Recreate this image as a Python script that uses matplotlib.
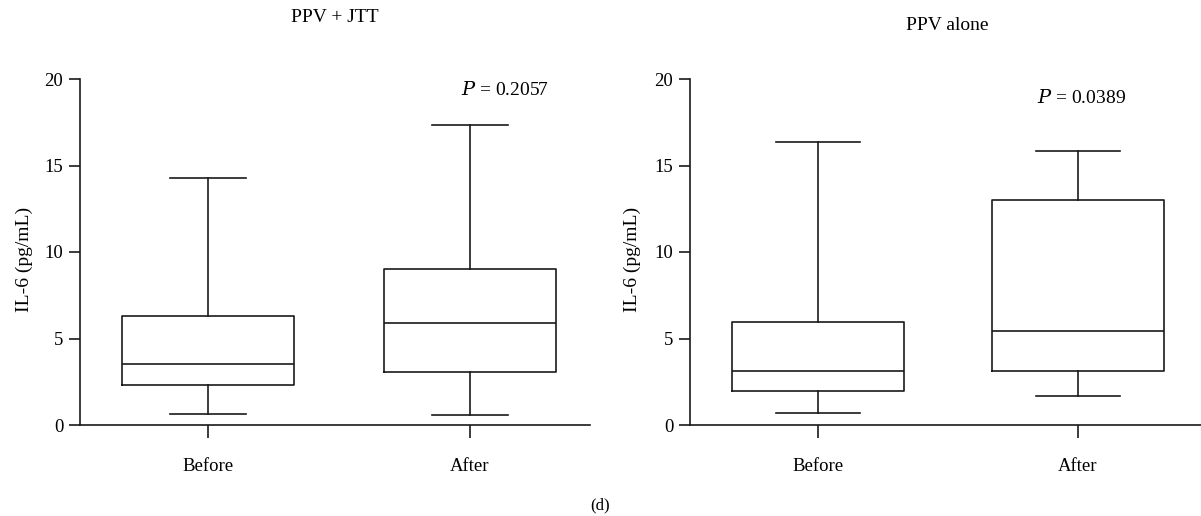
import matplotlib
matplotlib.use("Agg")
import matplotlib.pyplot as plt

plt.rcParams['font.family'] = ['Liberation Serif', 'DejaVu Serif']

categories = ["Before", "After"]
titles = ["PPV + JTT", "PPV alone"]
p_labels = ["0.2057", "0.0389"]

# box statistics: whisker low, Q1, median, Q3, whisker high
jtt_before = [0.62, 2.31, 3.51, 6.32, 14.3]
jtt_after = [0.58, 3.05, 5.91, 9.0, 17.34]
alone_before = [0.71, 1.97, 3.14, 5.97, 16.34]
alone_after = [1.68, 3.12, 5.43, 13.0, 15.86]

yticks = [0, 5, 10, 15, 20]

def stats(vals, label):
    lo, q1, med, q3, hi = vals
    return dict(whislo=lo, q1=q1, med=med, q3=q3, whishi=hi, fliers=[], label=label)

fig = plt.figure(figsize=(12.01, 5.16), dpi=100)
W, H = 1201, 516

panels = [
    dict(rect=(80, 590), data=[jtt_before, jtt_after], xlim=(0.5115, 2.458),
         width=0.653, cap=0.29, title=titles[0], title_xy=(335, 17),
         p=p_labels[0], p_xy=(505, 90), ylab_x=24),
    dict(rect=(690, 1201), data=[alone_before, alone_after], xlim=(0.508, 2.473),
         width=0.66, cap=0.32, title=titles[1], title_xy=(947, 26),
         p=p_labels[1], p_xy=(1082, 98), ylab_x=632),
]

col = "#1a1a1a"
for pn in panels:
    x0, x1 = pn["rect"]
    ax = fig.add_axes([x0 / W, 1 - 425 / H, (x1 - x0) / W, (425 - 79) / H])
    st = [stats(v, c) for v, c in zip(pn["data"], categories)]
    ax.bxp(st, positions=[1, 2], widths=pn["width"], capwidths=pn["cap"],
           showfliers=False,
           boxprops=dict(color=col, linewidth=1.2),
           medianprops=dict(color=col, linewidth=1.2),
           whiskerprops=dict(color=col, linewidth=1.2),
           capprops=dict(color=col, linewidth=1.2))
    ax.set_xlim(*pn["xlim"])
    ax.set_ylim(0, 20)
    ax.set_yticks(yticks)
    ax.set_xticks([1, 2])
    ax.set_xticklabels(categories)
    ax.spines['top'].set_visible(False)
    ax.spines['right'].set_visible(False)
    for s in ['left', 'bottom']:
        ax.spines[s].set_color(col)
        ax.spines[s].set_linewidth(1.2)
    ax.tick_params(axis='y', length=8, width=1.2, color=col, labelsize=13.5, pad=4)
    ax.tick_params(axis='x', length=9, width=1.2, color=col, labelsize=13.5, pad=15)
    ax.patch.set_alpha(0)
    fig.text(pn["ylab_x"] / W, 1 - 259 / H, "IL-6 (pg/mL)", rotation=90,
             ha='center', va='center', fontsize=14)
    fig.text(pn["title_xy"][0] / W, 1 - pn["title_xy"][1] / H, pn["title"],
             ha='center', va='center', fontsize=14)
    fig.text(pn["p_xy"][0] / W, 1 - pn["p_xy"][1] / H,
             r"$\it{P}$ = " + pn["p"], ha='center', va='center', fontsize=14,
             math_fontfamily='dejavuserif')

fig.text(600 / W, 1 - 505 / H, "(d)", ha='center', va='center', fontsize=12)

fig.savefig("out.png", dpi=100)
